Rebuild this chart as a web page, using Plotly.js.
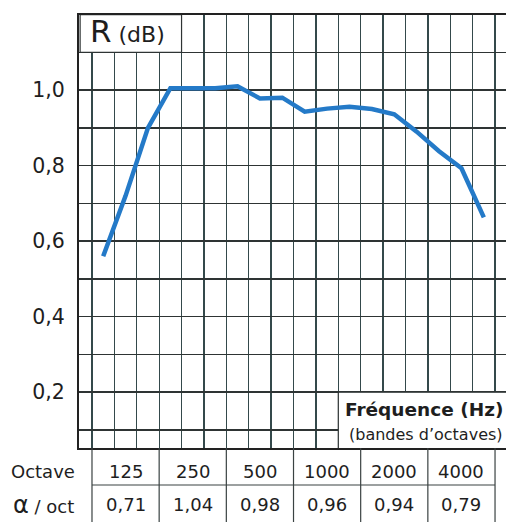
<!DOCTYPE html>
<html>
<head>
<meta charset="utf-8">
<script src="https://cdn.plot.ly/plotly-3.0.1.min.js"></script>
<style>html,body{margin:0;padding:0;background:#fff;}#chart{width:506px;height:522px;}</style>
</head>
<body>
<div id="chart"></div>
<script>
// Third-octave bands (Hz) and measured curve R
var bands = [100,125,160,200,250,315,400,500,630,800,1000,1250,1600,2000,2500,3150,4000,5000];
var rValues = [0.56,0.72,0.90,1.005,1.005,1.005,1.01,0.978,0.98,0.943,0.951,0.956,0.950,0.936,0.890,0.838,0.793,0.663];

// Y-axis ticks
var yTickVals = [0.1,0.2,0.3,0.4,0.5,0.6,0.7,0.8,0.9,1.0,1.1];
var yTickText = ['','0,2','','0,4','','0,6','','0,8','','1,0',''];

// Octave table
var octaveBands = ['125','250','500','1000','2000','4000'];
var octaveAlpha = ['0,71','1,04','0,98','0,96','0,94','0,79'];

var bandIndex = bands.map(function(f, i){ return i; });
// octave centre index in the third-octave band list
var octaveIndex = octaveBands.map(function(o){ return bands.indexOf(Number(o)); });

var FONT = 'DejaVu Sans, Arial, sans-serif';
var GRIDX = '#34494b';
var GRIDY = '#2e3434';

var trace = {
  x: bandIndex, y: rValues, type: 'scatter', mode: 'lines',
  line: {color: 'rgb(36,122,200)', width: 4.5},
  hoverinfo: 'skip'
};

var shapes = [];
var annotations = [];

// white label boxes on top of the grid
shapes.push({type:'rect', xref:'x', yref:'y', x0:-1.03, x1:3.5, y0:1.1, y1:1.2,
  fillcolor:'#ffffff', line:{color:GRIDY, width:1.2}, layer:'above'});
shapes.push({type:'rect', xref:'x', yref:'y', x0:10.5, x1:18.5, y0:0.2, y1:0.049,
  fillcolor:'#ffffff', line:{color:GRIDY, width:1.2}, layer:'above'});

// table lines below the chart
var yBottom = -0.2;
var yMid = -0.0855;
var edges = [-0.5];
octaveIndex.forEach(function(c){ edges.push(c + 1.5); });
edges.forEach(function(e){
  shapes.push({type:'line', xref:'x', yref:'paper', x0:e, x1:e, y0:0, y1:yBottom,
    line:{color:'#3a4242', width:1.2}});
});
shapes.push({type:'line', xref:'x', yref:'paper', x0:-0.5, x1:edges[edges.length-1], y0:yMid, y1:yMid,
  line:{color:'#3a4242', width:1.2}});

// table texts
octaveIndex.forEach(function(c, k){
  annotations.push({xref:'x', yref:'paper', x:c, y:-0.0543, text:octaveBands[k], showarrow:false,
    xanchor:'center', yanchor:'middle', font:{family:FONT, size:18, color:'#1e1e1e'}});
  annotations.push({xref:'x', yref:'paper', x:c, y:-0.1316, text:octaveAlpha[k], showarrow:false,
    xanchor:'center', yanchor:'middle', font:{family:FONT, size:18, color:'#1e1e1e'}});
});
annotations.push({xref:'paper', yref:'paper', x:-0.0843, y:-0.0543, text:'Octave', showarrow:false,
  xanchor:'center', yanchor:'middle', font:{family:FONT, size:18, color:'#1e1e1e'}});
annotations.push({xref:'paper', yref:'paper', x:-0.0843, y:-0.1316,
  text:'<span style="font-size:24px">α</span> / oct', showarrow:false,
  xanchor:'center', yanchor:'middle', font:{family:FONT, size:18, color:'#1e1e1e'}});

// box labels
annotations.push({xref:'paper', yref:'paper', x:0.022, y:0.962,
  text:'<span style="font-size:31px">R</span> (dB)', showarrow:false,
  xanchor:'left', yanchor:'middle', font:{family:FONT, size:22, color:'#1e1e1e'}});
annotations.push({xref:'paper', yref:'paper', x:0.997, y:0.088,
  text:'<b>Fréquence (Hz)</b>', showarrow:false,
  xanchor:'right', yanchor:'middle', font:{family:FONT, size:18.5, color:'#1e1e1e'}});
annotations.push({xref:'paper', yref:'paper', x:0.997, y:0.032,
  text:'(bandes d’octaves)', showarrow:false,
  xanchor:'right', yanchor:'middle', font:{family:FONT, size:16, color:'#1e1e1e'}});

var layout = {
  width: 506, height: 522,
  margin: {l:79, r:0, t:15, b:74, pad:0},
  paper_bgcolor: '#ffffff', plot_bgcolor: '#ffffff',
  showlegend: false,
  xaxis: {
    range: [-1.08, 17.99], tickmode: 'linear', tick0: -0.5, dtick: 1,
    showticklabels: false, ticks: '', showgrid: true, gridcolor: GRIDX, gridwidth: 1.3,
    zeroline: false, showline: true, linecolor: '#222', linewidth: 2, mirror: true, fixedrange: true
  },
  yaxis: {
    range: [0.052, 1.199], tickmode: 'array', tickvals: yTickVals, ticktext: yTickText,
    showgrid: true, gridcolor: GRIDY, gridwidth: 1.3, zeroline: false,
    showline: true, linecolor: '#222', linewidth: 2,
    ticks: 'outside', ticklen: 8, tickcolor: 'rgba(0,0,0,0)',
    tickfont: {family: FONT, size: 20.5, color: '#1e1e1e'}, fixedrange: true
  },
  shapes: shapes,
  annotations: annotations
};

Plotly.newPlot('chart', [trace], layout, {displayModeBar: false, staticPlot: true});
</script>
</body>
</html>
